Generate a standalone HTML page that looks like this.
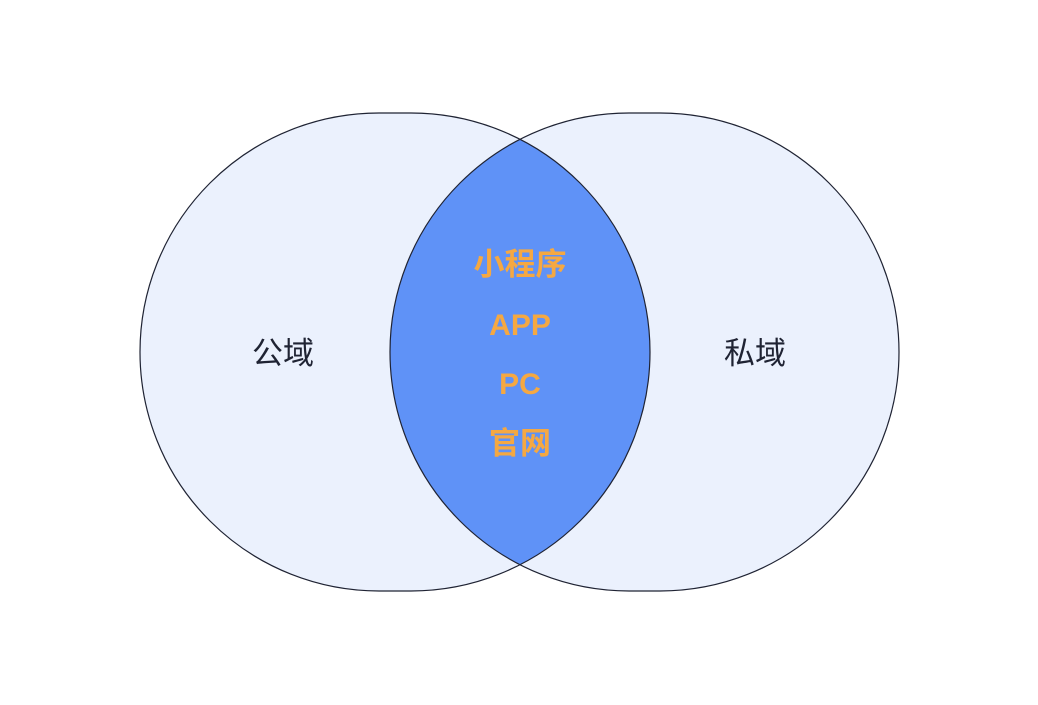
<!DOCTYPE html>
<html><head><meta charset="utf-8"><style>
html,body{margin:0;padding:0;background:#fff;}
svg{display:block;}
</style></head><body>
<svg width="1038" height="705" viewBox="0 0 1038 705" xmlns="http://www.w3.org/2000/svg">
<defs>
<clipPath id="cl"><rect x="140" y="113" width="510" height="478" rx="239" ry="239"/></clipPath>
</defs>
<rect x="140" y="113" width="510" height="478" rx="239" ry="239" fill="#ebf1fd"/>
<rect x="390" y="113" width="509" height="478" rx="239" ry="239" fill="#ebf1fd"/>
<rect x="390" y="113" width="509" height="478" rx="239" ry="239" fill="#5f92f7" clip-path="url(#cl)"/>
<rect x="140" y="113" width="510" height="478" rx="239" ry="239" fill="none" stroke="#1f2333" stroke-width="1.2"/>
<rect x="390" y="113" width="509" height="478" rx="239" ry="239" fill="none" stroke="#1f2333" stroke-width="1.2"/>
<g font-family="Liberation Sans, Noto Sans CJK SC, sans-serif" text-anchor="middle">
<text x="283" y="364" font-size="31" fill="#1f2333">公域</text>
<text x="755" y="364" font-size="31" fill="#1f2333">私域</text>
<g fill="#f5a842" font-weight="bold">
<text x="520" y="275" font-size="31">小程序</text>
<text x="520" y="335" font-size="30">APP</text>
<text x="520" y="394" font-size="30">PC</text>
<text x="520" y="454" font-size="31">官网</text>
</g>
</g>
</svg>
</body></html>
